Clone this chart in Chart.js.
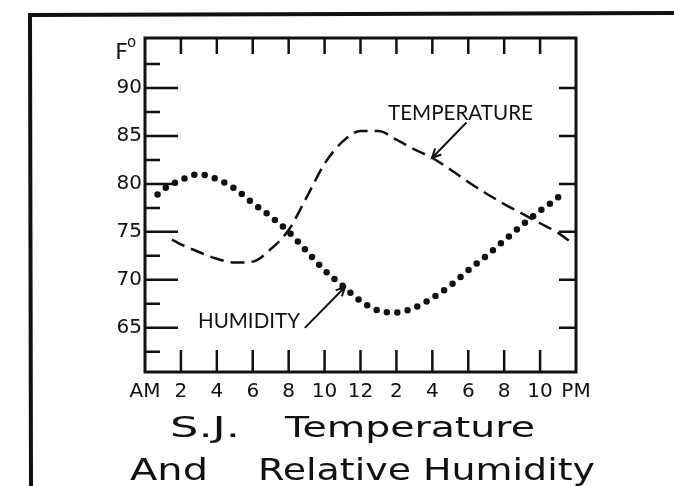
<!DOCTYPE html>
<html>
<head>
<meta charset="utf-8">
<title>S.J. Temperature And Relative Humidity</title>
<script src="https://cdn.jsdelivr.net/npm/chart.js@4.4.1/dist/chart.umd.min.js"></script>
<style>
  body { margin: 0; background: #fff; }
  #wrap { width: 674px; height: 486px; }
</style>
</head>
<body>
<div id="wrap"><canvas id="tempChart"></canvas></div>
<script>
// hours from midnight (0 = AM, 24 = PM) and degrees F
const tempHours  = [1.5, 2, 3, 4, 5, 6, 7, 8, 9, 10, 11, 12, 13, 14, 15, 16, 17, 18, 19, 20, 21, 22, 23, 23.6];
const tempValues = [74.2, 73.7, 72.9, 72.2, 71.8, 71.9, 73.2, 75.2, 78.6, 82.1, 84.4, 85.5, 85.5, 84.6, 83.6, 82.7, 81.5, 80.2, 79.0, 77.9, 76.9, 75.9, 74.9, 74.1];

const humHours  = [0.7, 1, 2, 3, 4, 5, 6, 7, 8, 9, 10, 11, 12, 13, 14, 15, 16, 17, 18, 19, 20, 21, 22, 23, 23.3];
const humValues = [78.9, 79.4, 80.4, 81.0, 80.5, 79.5, 78.0, 76.6, 75.0, 73.0, 71.0, 69.4, 67.8, 66.8, 66.6, 67.1, 68.1, 69.4, 71.0, 72.5, 74.1, 75.7, 77.2, 78.6, 79.2];

const hourTicks  = [0, 2, 4, 6, 8, 10, 12, 14, 16, 18, 20, 22, 24];
const hourLabels = ['AM', '2', '4', '6', '8', '10', '12', '2', '4', '6', '8', '10', 'PM'];
const degreeTicks = [65, 70, 75, 80, 85, 90];
const minorDegreeTicks = [62.5, 67.5, 72.5, 77.5, 82.5, 87.5, 92.5];

const ink = '#111';

function arrow(ctx, x1, y1, x2, y2) {
  const ang = Math.atan2(y2 - y1, x2 - x1);
  ctx.beginPath();
  ctx.moveTo(x1, y1);
  ctx.lineTo(x2, y2);
  ctx.moveTo(x2 - 10 * Math.cos(ang - 0.45), y2 - 10 * Math.sin(ang - 0.45));
  ctx.lineTo(x2, y2);
  ctx.lineTo(x2 - 10 * Math.cos(ang + 0.45), y2 - 10 * Math.sin(ang + 0.45));
  ctx.stroke();
}

// squeeze or stretch a piece of text to the width it has in the picture
function fitText(ctx, str, left, width, base, font) {
  ctx.font = font;
  const w = ctx.measureText(str).width;
  ctx.save();
  ctx.translate(left, base);
  ctx.scale(width / w, 1);
  ctx.fillText(str, 0, 0);
  ctx.restore();
}

const frameAndNotes = {
  id: 'frameAndNotes',
  afterDraw(chart) {
    const { ctx, chartArea: a, scales: { x, y } } = chart;
    ctx.save();
    ctx.strokeStyle = ink;
    ctx.fillStyle = ink;
    ctx.lineCap = 'butt';

    // outer border of the page
    ctx.lineWidth = 4;
    ctx.beginPath();
    ctx.moveTo(31, 486);
    ctx.lineTo(30, 15);
    ctx.lineTo(674, 13);
    ctx.stroke();

    // plot box
    ctx.lineWidth = 3;
    ctx.strokeRect(a.left, a.top, a.right - a.left, a.bottom - a.top);

    // inward ticks
    ctx.lineWidth = 2.5;
    ctx.beginPath();
    hourTicks.slice(1, -1).forEach(h => {
      const px = x.getPixelForValue(h);
      ctx.moveTo(px, a.top);
      ctx.lineTo(px, a.top + 16);
      ctx.moveTo(px, a.bottom);
      ctx.lineTo(px, a.bottom - 22);
    });
    degreeTicks.forEach(v => {
      const py = y.getPixelForValue(v);
      ctx.moveTo(a.left, py);
      ctx.lineTo(a.left + 33, py);
      ctx.moveTo(a.right, py);
      ctx.lineTo(a.right - 17, py);
    });
    minorDegreeTicks.forEach(v => {
      const py = y.getPixelForValue(v);
      ctx.moveTo(a.left, py);
      ctx.lineTo(a.left + 15, py);
    });
    ctx.stroke();

    // F° unit
    ctx.textAlign = 'right';
    ctx.textBaseline = 'alphabetic';
    ctx.font = '22px "DejaVu Sans"';
    ctx.fillText('F', 128, 59);
    ctx.font = '15px "DejaVu Sans"';
    ctx.textAlign = 'left';
    ctx.fillText('o', 127, 47);

    // series notes
    ctx.textAlign = 'left';
    fitText(ctx, 'TEMPERATURE', x.getPixelForValue(13.53), 145, y.getPixelForValue(86.66), '22px Lato');
    fitText(ctx, 'HUMIDITY', x.getPixelForValue(2.95), 102, y.getPixelForValue(65.0), '22px Lato');
    ctx.lineWidth = 2;
    arrow(ctx, x.getPixelForValue(17.9), y.getPixelForValue(86.4), x.getPixelForValue(15.98), y.getPixelForValue(82.7));
    arrow(ctx, x.getPixelForValue(8.9), y.getPixelForValue(65.0), x.getPixelForValue(11.14), y.getPixelForValue(69.26));

    // title, a wide face: stretch each word group
    fitText(ctx, 'S.J.', 170, 70, 437, '28px "DejaVu Sans"');
    fitText(ctx, 'Temperature', 285, 250, 437, '28px "DejaVu Sans"');
    fitText(ctx, 'And', 130, 78, 480, '30px "DejaVu Sans"');
    fitText(ctx, 'Relative Humidity', 258, 337, 480, '30px "DejaVu Sans"');
    ctx.restore();
  }
};

const ctx = document.getElementById('tempChart');

new Chart(ctx, {
  type: 'line',
  data: {
    datasets: [{
      label: 'Temperature',
      data: tempHours.map((h, i) => ({ x: h, y: tempValues[i] })),
      borderColor: ink,
      borderWidth: 2.5,
      borderDash: [14, 7],
      cubicInterpolationMode: 'monotone',
      pointRadius: 0,
      fill: false
    }, {
      label: 'Humidity',
      data: humHours.map((h, i) => ({ x: h, y: humValues[i] })),
      borderColor: ink,
      borderWidth: 6.5,
      borderDash: [0, 10.5],
      borderCapStyle: 'round',
      cubicInterpolationMode: 'monotone',
      pointRadius: 0,
      fill: false
    }]
  },
  plugins: [frameAndNotes],
  options: {
    responsive: true,
    maintainAspectRatio: false,
    animation: false,
    layout: { padding: { top: 38, right: 98, left: 0, bottom: 0 } },
    plugins: {
      legend: { display: false },
      tooltip: { enabled: false }
    },
    scales: {
      x: {
        type: 'linear',
        min: 0,
        max: 24,
        grid: { display: false, drawTicks: false },
        border: { display: false },
        afterFit: s => { s.height = 114; },
        afterBuildTicks: s => { s.ticks = hourTicks.map(v => ({ value: v })); },
        ticks: {
          autoSkip: false,
          maxRotation: 0,
          padding: 8,
          color: ink,
          font: { family: 'DejaVu Sans', size: 20 },
          callback: (v, i) => hourLabels[i]
        }
      },
      y: {
        type: 'linear',
        min: 60.4,
        max: 95.2,
        grid: { display: false, drawTicks: false },
        border: { display: false },
        afterFit: s => { s.width = 145; },
        afterBuildTicks: s => { s.ticks = degreeTicks.map(v => ({ value: v })); },
        ticks: {
          padding: 3,
          color: ink,
          font: { family: 'DejaVu Sans', size: 20 },
          callback: (v, i) => degreeTicks[i]
        }
      }
    }
  }
});
</script>
</body>
</html>
